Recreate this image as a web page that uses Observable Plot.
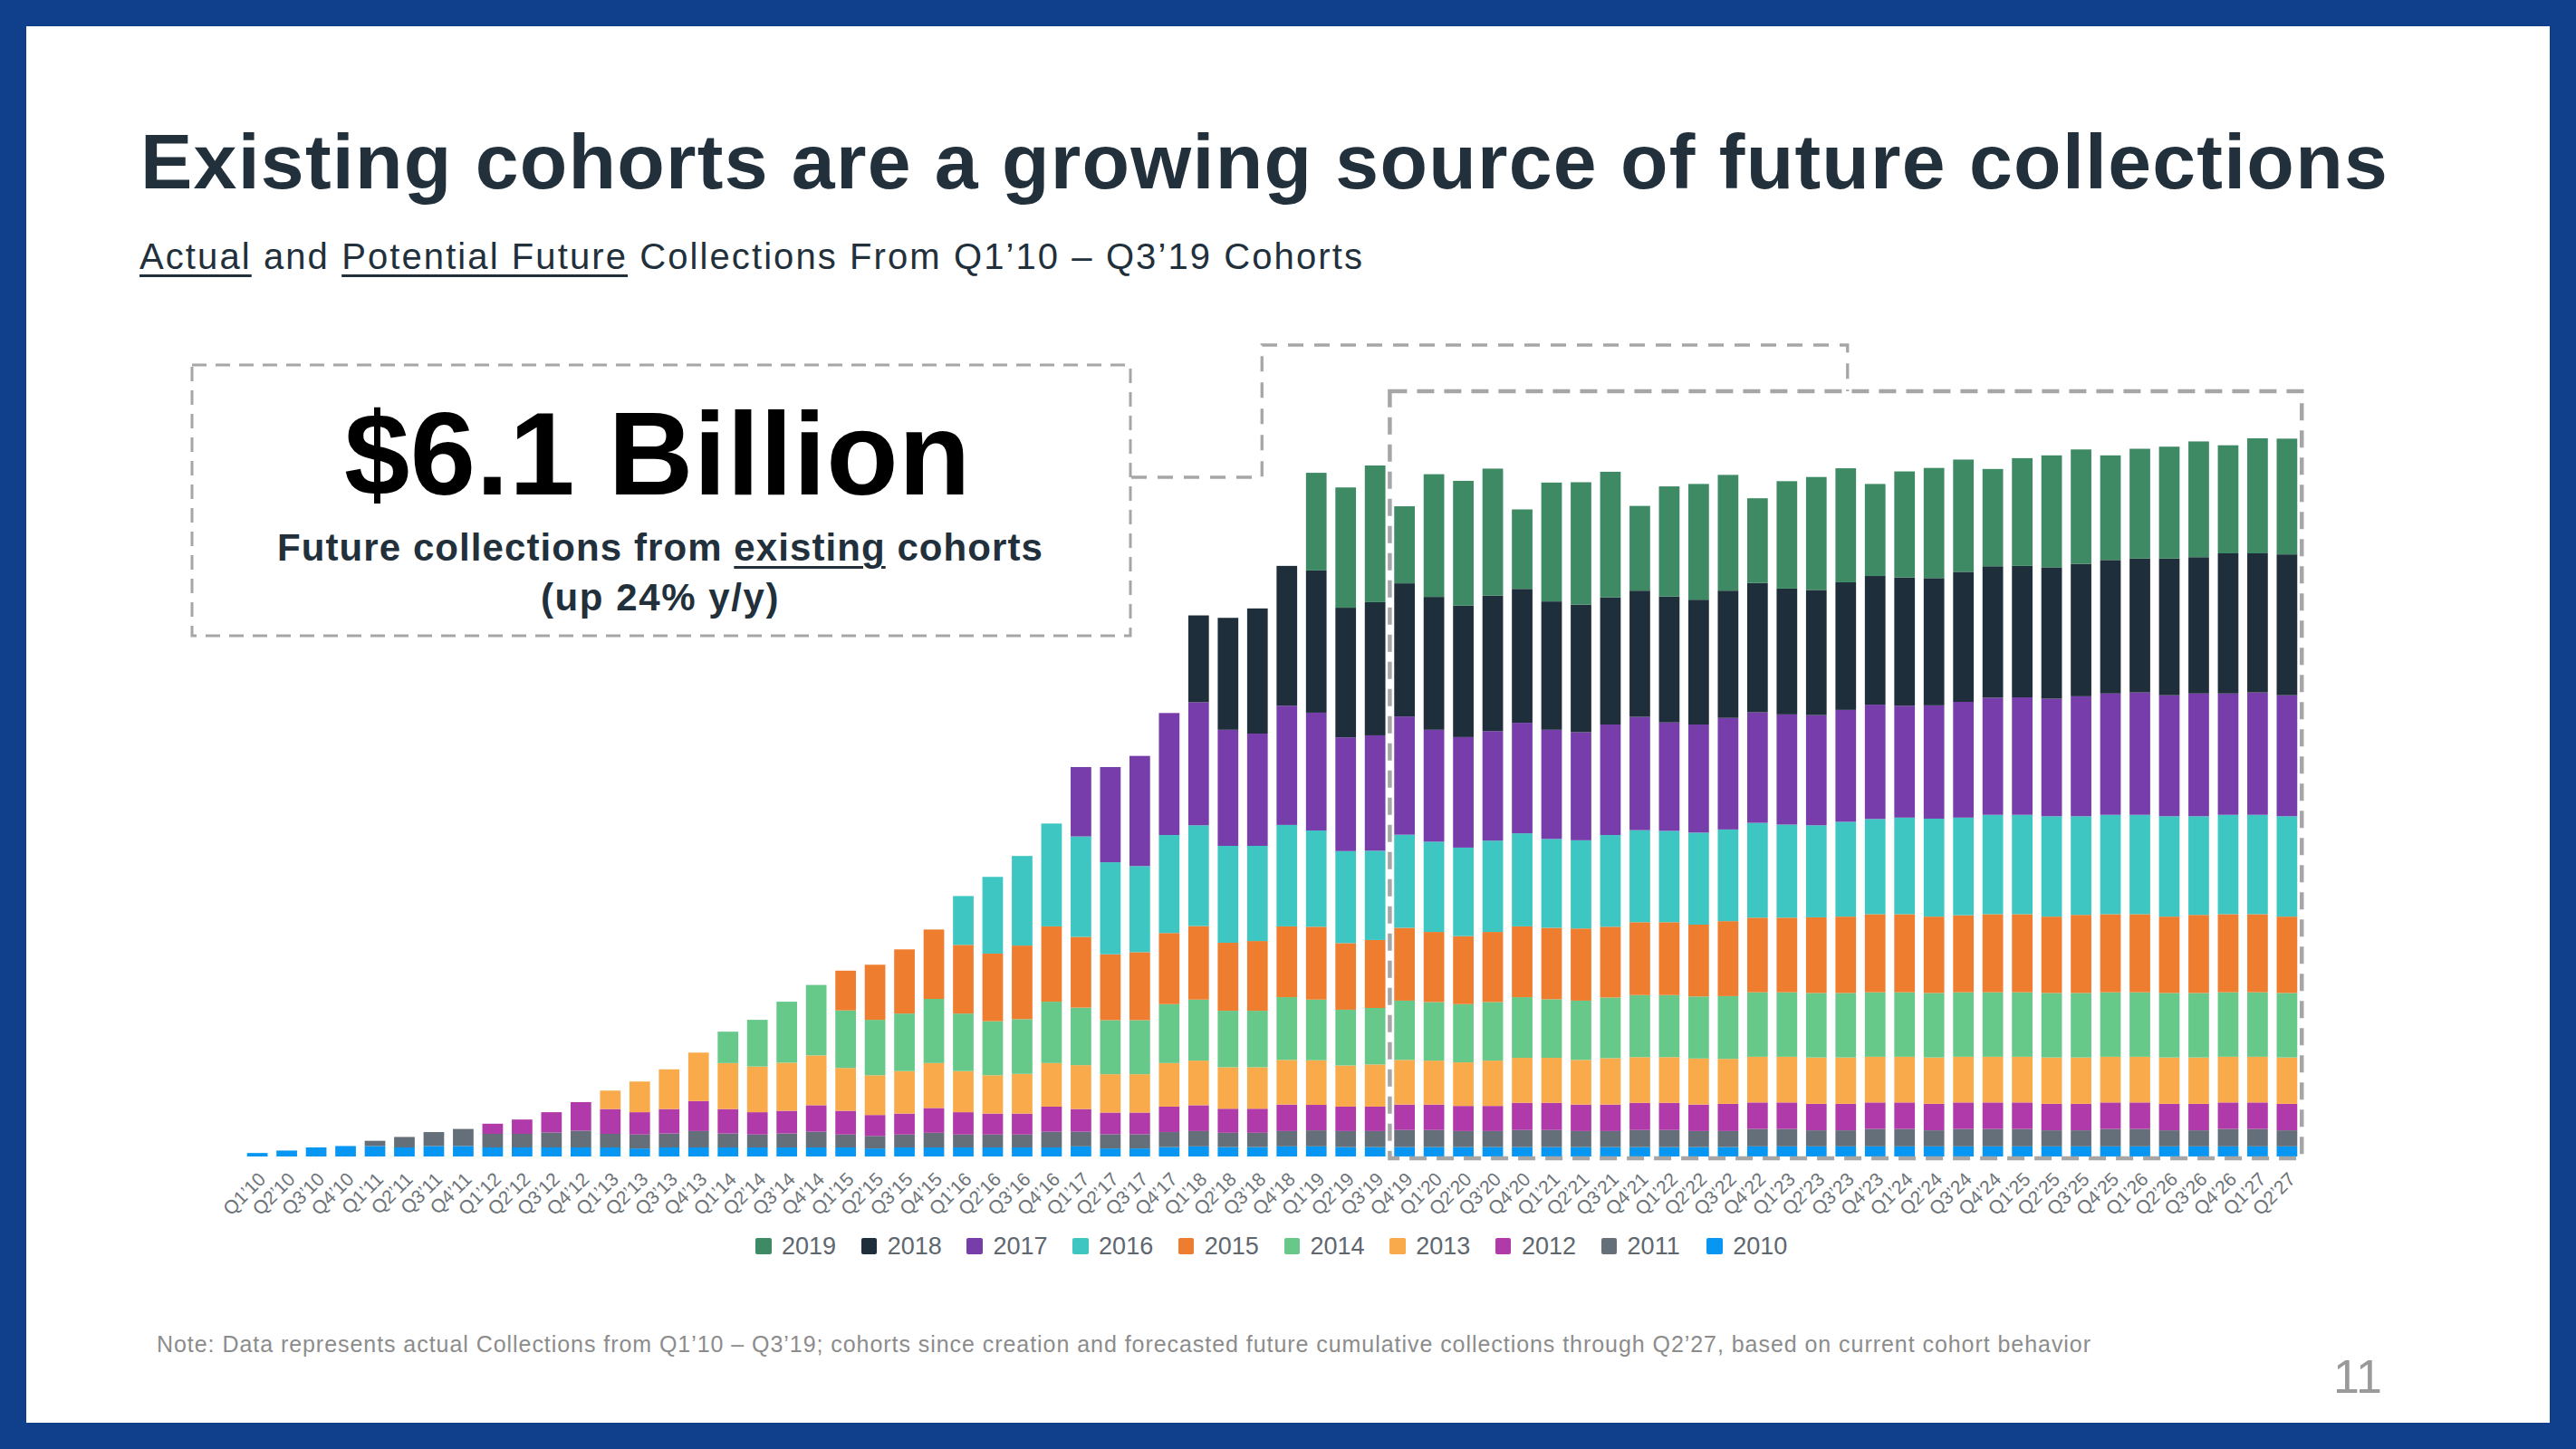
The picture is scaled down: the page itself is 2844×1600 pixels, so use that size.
<!DOCTYPE html>
<html><head><meta charset="utf-8">
<script src="https://cdn.jsdelivr.net/npm/d3@7"></script>
<script src="https://cdn.jsdelivr.net/npm/@observablehq/plot@0.6"></script>
<style>
html,body{margin:0;padding:0;}
body{width:2844px;height:1600px;background:#103f8c;position:relative;overflow:hidden;font-family:"Liberation Sans",Arial,sans-serif;}
#page{position:absolute;left:29px;top:29px;width:2786px;height:1542px;background:#fff;}
#chart{position:absolute;left:0;top:0;}
.t{position:absolute;white-space:nowrap;line-height:1;}
.u{text-decoration:underline;text-decoration-thickness:3px;text-underline-offset:6px;}
.lg{position:absolute;}
</style></head><body>
<div id="page"></div>
<div id="chart"></div>
<div id="title" class="t" style="font-weight:700;color:#22303c;">Existing cohorts are a growing source of future collections</div>
<div id="subtitle" class="t" style="color:#22303c;"><span class="u">Actual</span> and <span class="u">Potential Future</span> Collections From Q1’10 – Q3’19 Cohorts</div>
<div id="big" class="t" style="font-weight:700;color:#000;">$6.1 Billion</div>
<div id="sub1" class="t" style="font-weight:700;color:#22303c;">Future collections from <span class="u">existing</span> cohorts</div>
<div id="sub2" class="t" style="font-weight:700;color:#22303c;">(up 24% y/y)</div>
<div id="note" class="t" style="color:#8c8c8c;">Note: Data represents actual Collections from Q1’10 – Q3’19; cohorts since creation and forecasted future cumulative collections through Q2’27, based on current cohort behavior</div>
<div id="pnum" class="t" style="color:#9a9a9a;">11</div>
<div id="legend"></div>
<script>
// ---------------- DATA ----------------
const quarters = ["Q1’10","Q2’10","Q3’10","Q4’10","Q1’11","Q2’11","Q3’11","Q4’11","Q1’12","Q2’12","Q3’12","Q4’12","Q1’13","Q2’13","Q3’13","Q4’13","Q1’14","Q2’14","Q3’14","Q4’14","Q1’15","Q2’15","Q3’15","Q4’15","Q1’16","Q2’16","Q3’16","Q4’16","Q1’17","Q2’17","Q3’17","Q4’17","Q1’18","Q2’18","Q3’18","Q4’18","Q1’19","Q2’19","Q3’19","Q4’19","Q1’20","Q2’20","Q3’20","Q4’20","Q1’21","Q2’21","Q3’21","Q4’21","Q1’22","Q2’22","Q3’22","Q4’22","Q1’23","Q2’23","Q3’23","Q4’23","Q1’24","Q2’24","Q3’24","Q4’24","Q1’25","Q2’25","Q3’25","Q4’25","Q1’26","Q2’26","Q3’26","Q4’26","Q1’27","Q2’27"];

// legend order (top of stack first)
const cohorts = ["2019","2018","2017","2016","2015","2014","2013","2012","2011","2010"];
const cohortColors = ["#3d8a64","#1f2e3b","#773dab","#3ec6c3","#ef7d30","#66c98a","#f9ab4b","#b03aa9","#646f79","#0797f2"];
// first quarter of each cohort's collections
const cohortStart = {"2010":"Q1’10","2011":"Q1’11","2012":"Q1’12","2013":"Q1’13","2014":"Q1’14","2015":"Q1’15","2016":"Q1’16","2017":"Q1’17","2018":"Q1’18","2019":"Q1’19"};

// quarterly collections per cohort ($M), starting at the cohort's first quarter
const cohort2010 = [1.0,1.7,2.6,3.0, 3.0,2.6,3.0,3.0, 2.6,2.6,2.6,2.6, 2.6,2.3,2.6,2.6, 2.6,2.6,2.6,2.6, 2.6,2.3,2.6,2.6, 2.6,2.6,2.6,2.6, 2.9,2.3,2.3,2.7, 2.9,2.7,2.7,2.9, 2.9,2.7,2.7,2.7, 2.7,2.7,2.7,2.7, 2.7,2.7,2.7,2.7, 2.7,2.7,2.7,2.9, 2.9,2.9,2.9,2.9, 2.9,2.9,2.9,2.9, 2.9,2.9,2.9,2.9, 2.9,2.9,2.9,2.9, 2.9,2.9];
const cohort2011 = [1.5,3.0,4.0,4.9, 3.9,3.9,4.3,4.8, 3.9,4.0,4.0,4.7, 4.0,3.7,4.0,4.5, 3.7,3.6,3.7,4.2, 3.7,3.7,3.7,4.5, 4.2,4.1,4.1,4.3, 4.4,4.1,4.1,4.4, 4.6,4.6,4.6,4.9, 4.9,4.6,4.6,4.9, 4.9,4.6,4.6,4.9, 4.9,4.6,4.6,5.0, 5.0,4.6,4.6,5.0, 5.0,4.6,5.0,5.0, 5.0,4.6,4.6,5.0, 5.0,4.6,4.6,5.0, 5.0,4.6];
const cohort2012 = [2.9,4.1,5.8,8.2, 7.1,6.4,7.0,8.6, 7.0,6.4,6.5,7.6, 6.8,6.0,6.0,7.1, 6.4,6.0,6.0,7.2, 6.5,6.2,6.2,7.3, 7.4,6.9,6.9,7.6, 7.3,7.0,7.0,7.3, 7.3,7.2,7.2,7.8, 7.8,7.6,7.6,7.8, 7.8,7.6,7.8,7.6, 7.6,7.6,7.6,7.6, 7.6,7.6,7.6,7.6, 7.6,7.6,7.6,7.6, 7.6,7.6,7.6,7.6, 7.6,7.6];
const cohort2013 = [5.3,8.8,11.4,13.9, 13.2,13.1,13.8,14.3, 12.3,11.4,12.2,12.9, 11.8,11.0,11.4,12.5, 12.6,11.0,11.0,12.5, 12.8,11.9,11.9,12.8, 12.8,11.8,12.1,12.8, 12.6,12.5,13.0,12.9, 12.9,12.8,13.3,13.1, 13.1,13.2,12.9,13.1, 13.1,13.3,13.3,13.1, 13.1,13.3,13.1,13.1, 13.1,13.3,13.3,13.1, 13.1,13.3,13.3,13.1, 13.1,13.3];
const cohort2014 = [9.0,13.4,17.5,20.2, 16.5,15.9,16.5,18.4, 16.5,15.5,15.7,17.6, 16.5,15.5,15.5,16.9, 17.5,16.2,16.2,18.0, 17.4,16.0,16.2,17.0, 16.8,16.7,16.8,17.4, 16.8,17.0,17.4,17.8, 17.8,17.8,18.0,18.5, 18.5,18.5,18.5,18.5, 18.5,18.5,18.5,18.5, 18.5,18.5,18.5,18.5, 18.5,18.5,18.5,18.5, 18.5,18.5];
const cohort2015 = [11.4,15.8,18.4,19.9, 19.7,19.4,21.1,21.6, 20.3,18.9,19.5,20.4, 21.1,19.5,20.0,20.3, 20.9,19.1,19.5,20.9, 20.1,19.5,20.1,20.3, 20.5,20.7,20.3,20.9, 20.9,20.6,21.5,21.4, 21.4,21.7,21.9,22.4, 22.4,21.9,22.1,22.4, 22.4,21.9,22.4,22.4, 22.4,21.9,22.4,22.4, 22.4,21.9];
const cohort2016 = [14.0,22.0,25.7,29.5, 28.8,26.4,24.7,28.1, 28.9,27.8,27.3,29.1, 27.6,26.4,25.6,26.7, 25.9,25.4,26.2,26.7, 25.5,25.3,26.3,26.4, 26.2,26.4,26.3,27.2, 26.7,26.4,27.2,27.3, 27.7,28.1,28.0,28.5, 28.5,28.8,28.3,28.5, 28.5,28.8,28.3,28.5, 28.5,28.8];
const cohort2017 = [19.9,27.3,31.6,35.0, 35.3,33.3,32.2,34.2, 33.8,32.6,33.1,33.9, 32.1,31.7,31.4,31.7, 31.3,31.0,31.7,32.5, 31.1,31.0,32.0,31.7, 31.6,31.6,32.1,32.8, 32.1,32.5,33.2,33.6, 33.7,33.7,34.4,34.8, 35.1,34.7,35.2,34.8, 35.1,34.7];
const cohort2018 = [24.9,32.1,35.9,40.1, 40.8,37.2,38.2,38.2, 38.1,37.7,38.9,38.4, 36.8,36.6,36.5,36.2, 36.1,35.8,36.5,37.1, 36.1,35.9,36.6,36.9, 36.8,36.5,37.3,37.7, 37.7,37.7,38.0,38.3, 38.4,39.2,39.1,40.2, 39.9,40.4];
const cohort2019 = [28.0,34.5,39.2,22.1, 35.2,35.8,36.4,22.8, 34.1,35.1,36.0,24.3, 31.6,33.2,33.2,24.3, 30.8,32.4,32.7,26.4, 30.4,31.6,32.2,27.9, 30.9,32.1,32.8,30.0, 31.5,32.1,33.2,31.0, 33.0,33.2];

const cohortValues = {"2010":cohort2010,"2011":cohort2011,"2012":cohort2012,"2013":cohort2013,"2014":cohort2014,"2015":cohort2015,"2016":cohort2016,"2017":cohort2017,"2018":cohort2018,"2019":cohort2019};

// ---------------- TABLE ----------------
const stackOrder = cohorts.slice().reverse(); // 2010 at bottom
const rows = [];
for (const c of stackOrder) {
  const s = quarters.indexOf(cohortStart[c]);
  cohortValues[c].forEach((v, j) => rows.push({quarter: quarters[s + j], cohort: c, value: v}));
}

const FONT = "Liberation Sans, Arial, sans-serif";
const chart = Plot.plot({
  width: 2844, height: 1330,
  marginTop: 432, marginBottom: 53, marginLeft: 263, marginRight: 298,
  x: {domain: quarters, padding: 0.3, axis: null},
  y: {domain: [0, 219.5], axis: null},
  color: {domain: cohorts, range: cohortColors},
  style: {background: "transparent", overflow: "visible", maxWidth: "none", fontFamily: FONT},
  marks: [
    Plot.barY(rows, {x: "quarter", y: "value", fill: "cohort", z: "cohort", order: stackOrder}),
    Plot.text(quarters, {x: d => d, frameAnchor: "bottom", rotate: -45, textAnchor: "end", lineAnchor: "bottom", dx: 10, dy: 26, fontSize: 21, fill: "#6d7378"})
  ]
});
document.getElementById("chart").appendChild(chart);

// ---------------- ANNOTATIONS (dashed boxes) ----------------
const xs = chart.scale("x"), ys = chart.scale("y");
const bw = xs.bandwidth;
const svg = d3.select(chart);
const g = svg.append("g").attr("fill", "none").attr("stroke", "#a6a6a6");
const boxL = (xs.apply("Q3’19") + bw + xs.apply("Q4’19")) / 2;
const boxR = xs.apply(quarters[quarters.length - 1]) + bw + 5;
const boxT = ys.apply(ys.domain[1]);
const boxB = ys.apply(0) + 2;
g.append("path").attr("d", `M${boxL},${boxT}H${boxR}V${boxB}H${boxL}Z`).attr("stroke-width", 4.5).attr("stroke-dasharray", "19 11");
const c1 = xs.apply("Q3’18") + bw / 2 + 5, c2 = xs.apply("Q3’23") + bw / 2 + 2;
g.append("path").attr("d", `M1249,527H${c1}V381H${c2}V${boxT}`).attr("stroke-width", 3.3).attr("stroke-dasharray", "17 12");
g.append("rect").attr("x", 212).attr("y", 403).attr("width", 1036).attr("height", 299).attr("stroke-width", 3).attr("stroke-dasharray", "16 10");

// ---------------- LEGEND ----------------
const lg = document.getElementById("legend");
cohorts.forEach((c, k) => {
  const left = 834 + k * 116.7;
  const sq = document.createElement("div");
  sq.className = "lg";
  Object.assign(sq.style, {left: left + "px", top: (1376 - 8.75) + "px", width: "17.5px", height: "17.5px", background: cohortColors[k], borderRadius: "2px"});
  lg.appendChild(sq);
  const tx = document.createElement("div");
  tx.className = "t";
  tx.textContent = c;
  Object.assign(tx.style, {left: (left + 29) + "px", fontSize: "27px", top: (1376 + 0.358 * 27 - 0.8465 * 27) + "px", color: "#5e666e"});
  lg.appendChild(tx);
});

// ---------------- TEXT PLACEMENT ----------------
function place(id, o) {
  const el = document.getElementById(id);
  el.style.fontSize = o.fs + "px";
  el.style.top = (o.baseline - 0.8465 * o.fs) + "px";
  el.style.left = "0px";
  if (o.width) {
    const w = el.getBoundingClientRect().width;
    const n = el.textContent.length;
    el.style.letterSpacing = ((o.width - w) / n) + "px";
  }
  const w2 = el.getBoundingClientRect().width;
  el.style.left = (o.center != null ? o.center - w2 / 2 : o.left) + "px";
}
place("title", {fs: 86, baseline: 208, left: 155, width: 2482});
place("subtitle", {fs: 40, baseline: 297, left: 154, width: 1352});
place("big", {fs: 130, baseline: 546, center: 726, width: 692});
place("sub1", {fs: 42, baseline: 620, center: 729, width: 846});
place("sub2", {fs: 42, baseline: 675, center: 729, width: 264});
place("note", {fs: 25, baseline: 1493, left: 173, width: 2136});
place("pnum", {fs: 52, baseline: 1538, left: 2576});
</script>
</body></html>
